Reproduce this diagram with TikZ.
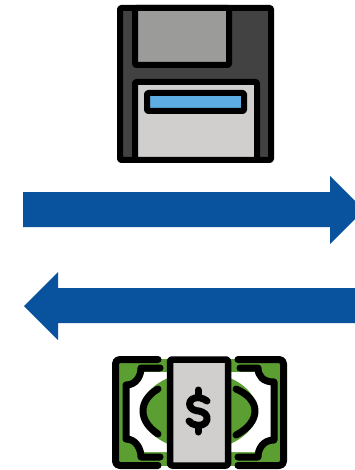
\documentclass[tikz,border=0pt]{standalone}
\definecolor{arrowblue}{HTML}{09529D}
\definecolor{diskdark}{HTML}{424242}
\definecolor{diskgrey}{HTML}{9B9B99}
\definecolor{panelgrey}{HTML}{D0CFCD}
\definecolor{slotblue}{HTML}{5DAEE3}
\definecolor{billgreen}{HTML}{5B9E31}
\tikzset{
  iconline/.style={draw=black,line width=6pt,line join=round,line cap=round},
  billline/.style={iconline,line width=7pt},
  flowarrow/.style={fill=arrowblue,draw=none}
}
\begin{document}
\begin{tikzpicture}[x=1pt,y=-1pt]
  \clip (0,0) rectangle (355,470);
  % floppy
  \draw[iconline,fill=diskdark,rounded corners=1pt] (120,8) rectangle (271,160);
  \draw[iconline,fill=diskgrey,rounded corners=1pt] (135,8) rectangle (229,65);
  \draw[iconline,fill=panelgrey,rounded corners=1pt] (135,160) -- (135,82) -- (257,82) -- (257,160) -- cycle;
  \draw[iconline,fill=slotblue,rounded corners=1pt] (147,93) rectangle (244,111);
  % arrows
  \fill[flowarrow] (23,192) -- (330,192) -- (330,176) -- (364,210) -- (330,244) -- (330,227) -- (23,227) -- cycle;
  \fill[flowarrow] (360,288) -- (58,288) -- (58,272) -- (24,306) -- (58,340) -- (58,323) -- (360,323) -- cycle;
  % bill
  \fill[billgreen] (115,359) rectangle (284,466);
  \fill[white] (141,372) .. controls (140,378) and (136,384) .. (128,385) -- (128,439)
    .. controls (136,441) and (140,447) .. (141,452) -- (257,452)
    .. controls (259,447) and (263,441) .. (271,439) -- (271,385)
    .. controls (263,384) and (259,378) .. (257,372) -- cycle;
  \fill[billgreen] (199,411) ellipse (58 and 39);
  \draw[billline] (158,359.5) -- (120,359.5) .. controls (117,359.5) and (115.5,361) .. (115.5,364) -- (115.5,461)
    .. controls (115.5,464) and (117,465.5) .. (120,465.5) -- (158,465.5);
  \draw[billline] (238,359.5) -- (279,359.5) .. controls (282,359.5) and (283.5,361) .. (283.5,364) -- (283.5,461)
    .. controls (283.5,464) and (282,465.5) .. (279,465.5) -- (238,465.5);
  \draw[billline] (160,368) -- (141,368) .. controls (141,376) and (136,385) .. (126,385) -- (126,439)
    .. controls (136,439) and (141,449) .. (141,457) -- (160,457);
  \draw[billline] (240,368) -- (258,368) .. controls (258,376) and (263,382) .. (274,382) -- (274,440)
    .. controls (263,440) and (258,449) .. (258,457) -- (238,457);
  \draw[billline] (158,389) .. controls (149,394) and (143,402) .. (143,411) .. controls (143,420) and (149,428) .. (158,434);
  \draw[billline] (236,389) .. controls (248,394) and (255,402) .. (255,411) .. controls (255,420) and (248,429) .. (236,435);
  \draw[iconline,line width=6.5pt,fill=panelgrey,rounded corners=2pt] (170,359.5) rectangle (228,465.5);
  % dollar
  \draw[billline] (198,390) -- (198,396);
  \draw[billline] (198,427) -- (198,432);
  \draw[billline] (207,401) .. controls (203,398) and (198,397) .. (195,398)
    .. controls (190,399) and (189,403) .. (190,406)
    .. controls (191,410) and (197,411) .. (199,411)
    .. controls (204,412) and (208,415) .. (207,420)
    .. controls (206,425) and (199,426) .. (196,425)
    .. controls (193,425) and (191,423) .. (189,421);
\end{tikzpicture}
\end{document}
